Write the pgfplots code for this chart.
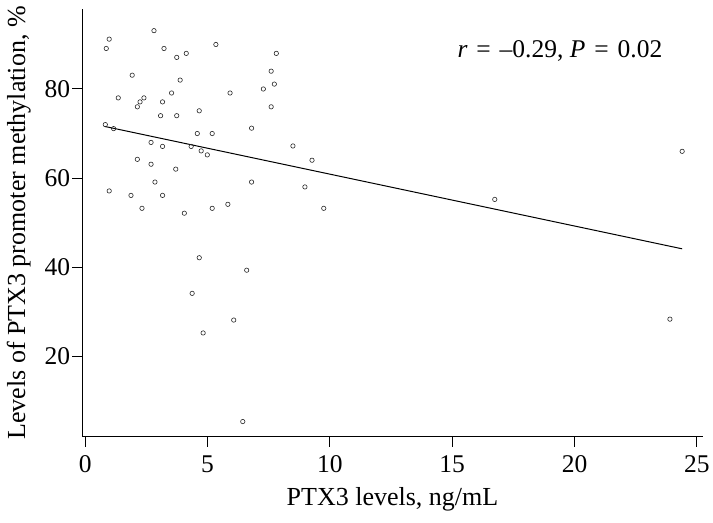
\documentclass[border=0pt]{standalone}
\usepackage{fontspec}
\setmainfont{Liberation Serif}
\usepackage{pgfplots}
\pgfplotsset{compat=1.18}
\begin{document}
\begin{tikzpicture}
\begin{axis}[
  scale only axis,
  width=620.4pt, height=427.4pt,
  xmin=-0.12, xmax=25.24,
  ymin=1.9, ymax=97.9,
  axis lines=left,
  axis line style={-, line width=1pt},
  tick align=outside,
  major tick length=10pt,
  tick style={line width=1pt, black},
  xtick={0,5,10,15,20,25},
  ytick={20,40,60,80},
  /pgf/number format/assume math mode=true,
  tick label style={font=\fontsize{25.5}{30}\selectfont},
  xticklabel style={inner ysep=9pt},
  yticklabel style={inner xsep=2pt},
  label style={font=\fontsize{26}{30}\selectfont},
  xlabel={PTX3 levels, ng/mL},
  ylabel={Levels of PTX3 promoter methylation, \%},
  xlabel style={at={(axis description cs:0.5,-0.1598)}, anchor=base},
  ylabel style={at={(axis description cs:-0.0923,0.5)}, anchor=base},
  clip=false,
]
\addplot[only marks, mark=o, mark size=2.2pt, mark options={line width=0.6pt, draw=black!85}] coordinates {
(0.98,91.2) (0.86,89.1) (2.81,93.1) (3.22,89.1) (5.34,90.0) (4.13,88.0)
(3.74,87.1) (7.81,88.0) (1.92,83.1) (3.88,82.0) (7.60,84.0) (7.73,81.1)
(7.28,80.0) (5.92,79.1) (3.53,79.1) (1.35,78.0) (2.40,78.0) (2.24,77.1)
(2.13,76.0) (3.16,77.1) (7.60,76.0) (4.66,75.1) (3.08,74.0) (3.74,74.0)
(0.82,72.0) (1.16,71.1) (6.80,71.2) (4.58,70.0) (5.19,70.0) (2.69,68.0)
(3.16,67.1) (4.33,67.1) (4.74,66.1) (4.99,65.2) (2.13,64.2) (2.69,63.1)
(3.70,62.0) (2.85,59.1) (6.80,59.1) (0.98,57.1) (1.87,56.1) (3.16,56.1)
(2.32,53.2) (4.05,52.1) (5.19,53.2) (5.83,54.1) (4.66,42.1) (6.60,39.3)
(4.37,34.1) (6.07,28.1) (4.82,25.2) (6.44,5.3) (8.49,67.2) (9.27,64.0)
(8.98,58.0) (9.75,53.2) (16.74,55.2) (24.40,66.0) (23.90,28.3)
};
\addplot[black, line width=1pt] coordinates {(0.79,71.6) (24.40,44.1)};
\node[anchor=base west, inner sep=0pt, font=\fontsize{25.5}{30}\selectfont] at (axis cs:15.21,87.1) {\textit{r}\hspace{0.1em} =\hspace{0.1em} –0.29, \textit{P}\hspace{0.1em} =\hspace{0.1em} 0.02};
\path ([shift={(-82.3pt,-85.3pt)}]rel axis cs:0,0) rectangle ([shift={(10.3pt,9.3pt)}]rel axis cs:1,1);
\end{axis}
\end{tikzpicture}
\end{document}
